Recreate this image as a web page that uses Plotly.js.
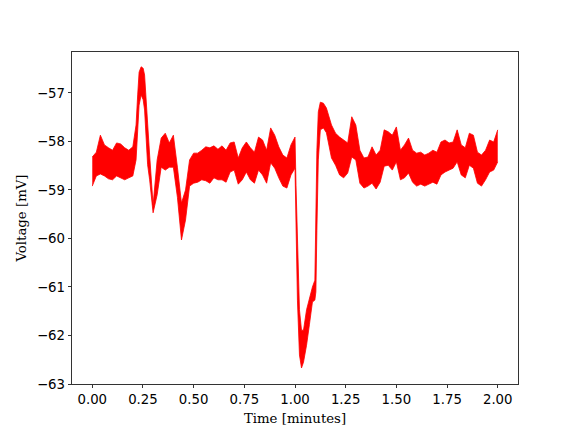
<!DOCTYPE html>
<html>
<head>
<meta charset="utf-8">
<script src="https://cdn.plot.ly/plotly-3.0.1.min.js"></script>
<style>html,body{margin:0;padding:0;background:#fff;}#chart{width:576px;height:432px;}</style>
</head>
<body>
<div id="chart"></div>
<script>
// Time in minutes
var timeMin = [0.00,0.02,0.04,0.06,0.08,0.10,0.12,0.14,0.16,0.18,0.20,0.216,0.224,0.231,0.241,0.251,0.258,0.265,0.273,0.283,
  0.30,0.32,0.34,0.36,0.38,0.40,0.42,0.44,0.46,0.48,0.50,0.52,0.54,0.56,0.58,0.60,0.62,0.64,0.66,0.68,0.70,0.72,0.74,0.76,0.78,
  0.80,0.82,0.84,0.86,0.88,0.90,0.92,0.94,0.96,0.98,1.00,1.005,1.012,1.022,1.032,1.042,1.057,1.071,1.086,1.098,1.103,1.108,1.115,
  1.125,1.14,1.155,1.18,1.20,1.22,1.24,1.26,1.28,1.30,1.32,1.34,1.36,1.38,1.40,1.42,1.44,1.46,1.48,1.50,1.52,1.54,1.56,1.58,
  1.60,1.62,1.64,1.66,1.68,1.70,1.72,1.74,1.76,1.78,1.80,1.82,1.84,1.86,1.88,1.90,1.92,1.94,1.96,1.98,2.00];
// Upper edge of the noisy trace (mV)
var voltHigh = [-58.32,-58.22,-57.87,-58.07,-58.13,-58.18,-58.03,-58.05,-58.13,-58.18,-58.11,-57.66,-57.04,-56.57,-56.46,-56.49,-56.63,-57.14,-57.76,-58.28,
  -59.31,-58.38,-57.93,-57.83,-58.03,-57.87,-58.53,-59.27,-59.00,-58.38,-58.24,-58.24,-58.18,-58.11,-58.13,-58.09,-58.16,-58.09,-58.18,-58.03,-58.01,-58.34,-58.13,-58.01,-58.13,
  -58.22,-57.91,-57.97,-58.18,-57.72,-57.87,-58.11,-58.28,-58.34,-58.07,-57.91,-58.90,-60.24,-61.47,-61.89,-61.89,-61.47,-61.23,-61.00,-60.86,-59.21,-58.18,-57.39,
  -57.19,-57.21,-57.31,-57.66,-57.83,-57.91,-57.97,-58.03,-57.49,-57.66,-58.18,-58.34,-58.32,-58.11,-58.28,-58.18,-57.76,-57.80,-57.87,-57.70,-58.18,-58.07,-57.93,-58.18,
  -58.24,-58.22,-58.28,-58.24,-58.18,-58.22,-58.01,-57.97,-58.03,-58.01,-57.76,-58.07,-58.13,-57.83,-57.87,-58.22,-58.28,-58.18,-57.97,-58.01,-57.76];
// Lower edge of the noisy trace (mV)
var voltLow = [-58.92,-58.71,-58.67,-58.71,-58.77,-58.79,-58.71,-58.75,-58.79,-58.75,-58.71,-58.38,-57.72,-57.25,-57.04,-57.14,-57.35,-57.97,-58.48,-58.79,
  -59.47,-59.10,-58.53,-58.59,-58.53,-58.53,-59.15,-60.03,-59.62,-58.92,-58.86,-58.84,-58.79,-58.81,-58.86,-58.75,-58.79,-58.79,-58.84,-58.63,-58.59,-58.88,-58.79,-58.63,-58.79,
  -58.86,-58.59,-58.69,-58.86,-58.44,-58.55,-58.75,-58.92,-58.96,-58.69,-58.55,-60.03,-61.27,-62.40,-62.67,-62.55,-62.20,-61.78,-61.31,-61.27,-61.10,-59.83,-58.38,
  -57.76,-57.72,-57.82,-58.34,-58.49,-58.69,-58.75,-58.65,-58.32,-58.38,-58.86,-58.96,-58.92,-58.86,-58.98,-58.84,-58.51,-58.49,-58.59,-58.42,-58.79,-58.75,-58.65,-58.84,
  -58.92,-58.88,-58.92,-58.88,-58.84,-58.88,-58.69,-58.63,-58.59,-58.55,-58.42,-58.69,-58.75,-58.49,-58.55,-58.86,-58.92,-58.79,-58.63,-58.59,-58.42];

var xTicks = [0, 0.25, 0.5, 0.75, 1.0, 1.25, 1.5, 1.75, 2.0];
var xTickText = ['0.00','0.25','0.50','0.75','1.00','1.25','1.50','1.75','2.00'];
var yTicks = [-63, -62, -61, -60, -59, -58, -57];
var yTickText = ['\u221263','\u221262','\u221261','\u221260','\u221259','\u221258','\u221257'];

var traces = [
  {x: timeMin, y: voltLow, type: 'scatter', mode: 'lines',
   line: {color: '#ff0000', width: 0.8}, hoverinfo: 'skip', showlegend: false},
  {x: timeMin, y: voltHigh, type: 'scatter', mode: 'lines', fill: 'tonexty',
   fillcolor: '#ff0000', line: {color: '#ff0000', width: 0.8}, hoverinfo: 'skip', showlegend: false}
];

var tickFont = {family: 'DejaVu Sans', size: 13.3, color: '#000'};
var labelFont = {family: 'DejaVu Serif', size: 13.3, color: '#000'};

var layout = {
  width: 576, height: 432,
  margin: {l: 72, r: 58, t: 52, b: 48, pad: 0},
  paper_bgcolor: '#fff', plot_bgcolor: '#fff',
  showlegend: false,
  xaxis: {
    range: [-0.1, 2.1], tickvals: xTicks, ticktext: xTickText,
    ticks: 'outside', ticklen: 3.5, tickwidth: 0.8, tickcolor: '#000',
    showline: true, linecolor: '#000', linewidth: 0.8, mirror: true,
    showgrid: false, zeroline: false, tickfont: tickFont,
    title: {text: 'Time [minutes]', font: labelFont, standoff: 7},
    automargin: false
  },
  yaxis: {
    range: [-63.0, -56.155], tickvals: yTicks, ticktext: yTickText,
    ticks: 'outside', ticklen: 3.5, tickwidth: 0.8, tickcolor: '#000',
    showline: true, linecolor: '#000', linewidth: 0.8, mirror: true,
    showgrid: false, zeroline: false, tickfont: tickFont,
    title: {text: 'Voltage [mV]', font: labelFont, standoff: 7},
    automargin: false
  }
};

Plotly.newPlot('chart', traces, layout, {staticPlot: true, displayModeBar: false});
</script>
</body>
</html>
